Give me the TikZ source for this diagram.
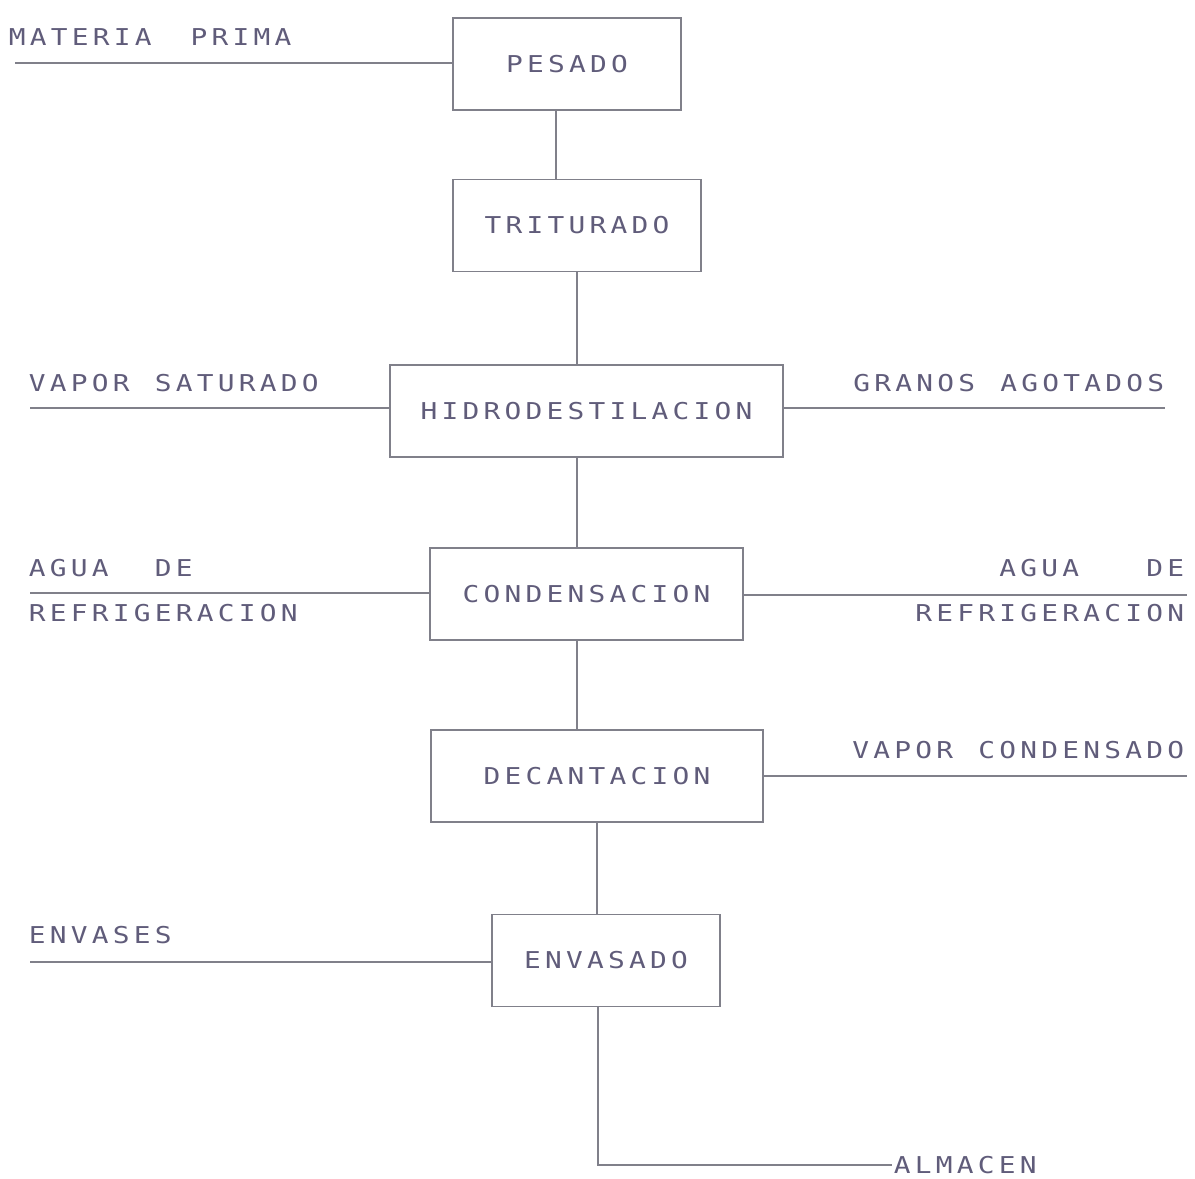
\documentclass[tikz,border=0pt]{standalone}
\usepackage{fontspec}
\usepackage{graphicx}
\newfontfamily\plotter{DejaVu Sans Mono}
\definecolor{tinta}{RGB}{96,92,122}
\definecolor{trazo}{RGB}{128,128,138}
\newlength{\pitch}
\setlength{\pitch}{0.525cm}
% every letter in a cell of the same width, as a plotter writes it
\ExplSyntaxOn
\NewDocumentCommand\plot{m}{\tl_map_inline:nn {#1} {\makebox[\pitch]{\scalebox{1.2}[1]{##1}}}}
\ExplSyntaxOff
\begin{document}
\begin{tikzpicture}[x=0.025cm,y=-0.025cm,
  caja/.style={draw=trazo,line width=1.2pt,minimum height=2.3cm,inner sep=0pt},
  rotulo/.style={text=tinta,inner sep=0pt,font=\plotter\fontsize{16.5}{32}\selectfont},
  linea/.style={draw=trazo,line width=1.2pt}]
\useasboundingbox (0,0) rectangle (1195,1178);
% boxes of the process
\node[caja,minimum width=5.7cm,rotulo] (pesado) at (567,64) {\plot{PESADO}};
\node[caja,minimum width=6.2cm,rotulo] (triturado) at (577,225.5) {\plot{TRITURADO}};
\node[caja,minimum width=9.825cm,rotulo] (hidro) at (586.5,411) {\plot{HIDRODESTILACION}};
\node[caja,minimum width=7.825cm,rotulo] (cond) at (586.5,594) {\plot{CONDENSACION}};
\node[caja,minimum width=8.3cm,rotulo] (decant) at (597,776) {\plot{DECANTACION}};
\node[caja,minimum width=5.7cm,rotulo] (envasado) at (606,960.5) {\plot{ENVASADO}};
% side streams
\node[rotulo,anchor=west] (mp) at (6.5,37) {\plot{MATERIA~}\hspace{0.65\pitch}\plot{PRIMA}};
\node[rotulo,anchor=west] (vs) at (26.5,383) {\plot{VAPOR~SATURADO}};
\node[rotulo,anchor=east] (ga) at (1166.5,383) {\plot{GRANOS~AGOTADOS}};
\node[rotulo,anchor=west,align=left] (arl) at (26.5,590.5) {\plot{AGUA~~DE}\\\plot{REFRIGERACION}};
\node[rotulo,anchor=east,align=right] (arr) at (1186.5,590.5) {\plot{AGUA~~~DE}\\\plot{REFRIGERACION}};
\node[rotulo,anchor=east] (vc) at (1186.5,750) {\plot{VAPOR~CONDENSADO}};
\node[rotulo,anchor=west] (env) at (26.5,935) {\plot{ENVASES}};
\node[rotulo,anchor=west] (almacen) at (891.5,1165) {\plot{ALMACEN}};
\coordinate (mpfin) at (15,63);
\coordinate (vsfin) at (30,408);
\coordinate (gafin) at (1165,408);
\coordinate (arlfin) at (30,593);
\coordinate (arrfin) at (1187,595);
\coordinate (vcfin) at (1187,776);
\coordinate (envfin) at (30,962);
\draw[linea] (mpfin) -- (mpfin -| pesado.west);
\draw[linea] (vsfin) -- (vsfin -| hidro.west);
\draw[linea] (gafin -| hidro.east) -- (gafin);
\draw[linea] (arlfin) -- (arlfin -| cond.west);
\draw[linea] (arrfin -| cond.east) -- (arrfin);
\draw[linea] (vcfin -| decant.east) -- (vcfin);
\draw[linea] (envfin) -- (envfin -| envasado.west);
% main line
\draw[linea] ([xshift=-0.275cm]pesado.south) -- ([xshift=-0.275cm]pesado.south |- triturado.north);
\draw[linea] (triturado.south) -- (triturado.south |- hidro.north);
\draw[linea] ([xshift=-0.24cm]hidro.south) -- ([xshift=-0.24cm]cond.north);
\draw[linea] ([xshift=-0.24cm]cond.south) -- ([xshift=-0.24cm]cond.south |- decant.north);
\draw[linea] (decant.south) -- (decant.south |- envasado.north);
\draw[linea] ([xshift=-0.2cm]envasado.south) |- (almacen.west);
\end{tikzpicture}
\end{document}
